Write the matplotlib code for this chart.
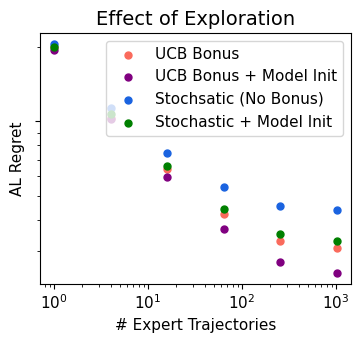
import numpy as np
import matplotlib
matplotlib.use("Agg")
import matplotlib.pyplot as plt
from matplotlib.ticker import NullFormatter

n_traj = [1, 4, 16, 64, 256, 1024]

ucb_bonus = [2.00, 1.03, 0.642, 0.421, 0.330, 0.307]
ucb_model_init = [1.94, 1.019, 0.596, 0.366, 0.270, 0.245]
stoch_no_bonus = [2.05, 1.137, 0.746, 0.544, 0.456, 0.438]
stoch_model_init = [2.00, 1.075, 0.662, 0.443, 0.351, 0.330]

fig, ax = plt.subplots(figsize=(3.6, 3.43), dpi=100)
fig.subplots_adjust(left=0.111, right=0.975, top=0.904, bottom=0.172)

ax.scatter(n_traj, ucb_bonus, s=25, color="#fa6a5c", label="UCB Bonus")
ax.scatter(n_traj, ucb_model_init, s=25, color="purple", label="UCB Bonus + Model Init")
ax.scatter(n_traj, stoch_no_bonus, s=25, color="#1a63e0", label="Stochsatic (No Bonus)")
ax.scatter(n_traj, stoch_model_init, s=25, color="green", label="Stochastic + Model Init")

ax.set_xscale("log")
ax.set_yscale("log")
ax.yaxis.set_major_formatter(NullFormatter())
ax.yaxis.set_minor_formatter(NullFormatter())

ax.set_title("Effect of Exploration", fontsize=14)
ax.set_xlabel("# Expert Trajectories", fontsize=11)
ax.set_ylabel("AL Regret", fontsize=11)
ax.tick_params(labelsize=11)
ax.legend(loc="upper right", fontsize=11)

plt.savefig("out.png", dpi=100)
